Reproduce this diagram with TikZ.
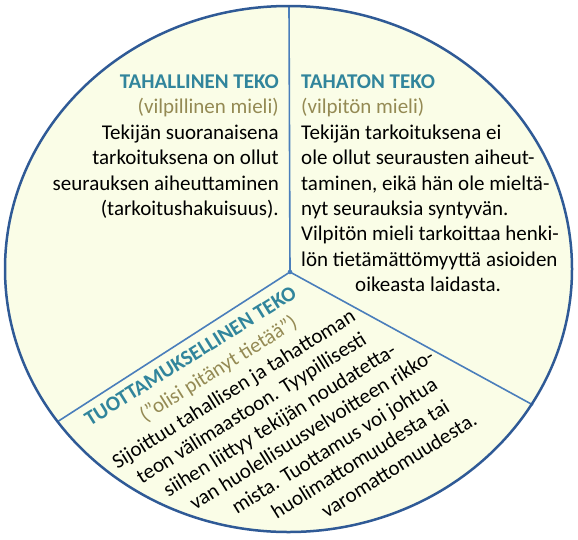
\documentclass[tikz,border=0pt]{standalone}
\usepackage{fontspec}
\setmainfont{Carlito}

\definecolor{tekoteal}{HTML}{31859C}
\definecolor{mieliolive}{HTML}{948A54}
\definecolor{piefill}{HTML}{FAFDE7}
\definecolor{pieedge}{HTML}{2F5A96}
\definecolor{pieline}{HTML}{4A7EBB}

\tikzset{
  txt/.style={inner sep=0pt, text=black, font=\fontsize{21}{25.4}\selectfont},
  heading/.style={txt, text=tekoteal, font=\fontsize{21}{25.4}\selectfont\bfseries},
  subhead/.style={txt, text=mieliolive},
}

\begin{document}
\begin{tikzpicture}[x=1pt,y=-1pt]

  % fix the page to the reference size
  \useasboundingbox (0,0) rectangle (578,539);

  % light yellow disc
  \fill [piefill] (288.5,269) ellipse [x radius=283.5, y radius=263];

  % three dividing lines from the centre
  \coordinate (ctr) at (290,272);
  \coordinate (top) at (289,6);
  \coordinate (lft) at (57,422);
  \coordinate (rgt) at (533,405);
  \foreach \e in {top,lft,rgt}
    \draw [pieline, line width=1.6pt] (ctr) -- (\e);
  \fill [pieline] (ctr) circle [radius=2.3pt];

  % blue rim
  \draw [pieedge, line width=2.5pt] (288.5,269) ellipse [x radius=283.5, y radius=263];

  % upper left sector
  \node [txt, align=right, anchor=north east] (tahallinen) at (279,74.5) {%
    {\color{tekoteal}\bfseries TAHALLINEN TEKO}\\
    {\color{mieliolive}(vilpillinen mieli)}\\
    Tekijän suoranaisena\hspace*{7pt}\\
    tarkoituksena on ollut\\
    seurauksen aiheuttaminen\\
    (tarkoitushakuisuus).};

  % upper right sector
  \node [txt, align=left, anchor=north west] (tahaton) at (301,74.5) {%
    {\color{tekoteal}\bfseries TAHATON TEKO}\\
    {\color{mieliolive}(vilpitön mieli)}\\
    Tekijän tarkoituksena ei\\
    ole ollut seurausten aiheut-\\
    taminen, eikä hän ole mieltä-\\
    nyt seurauksia syntyvän.\\
    Vilpitön mieli tarkoittaa henki-\\
    lön tietämättömyyttä asioiden\\
    \hspace*{54pt}oikeasta laidasta.};

  % lower sector, turned text
  \node [heading, rotate=32, anchor=base west] (tuottamus) at (89.9,426.7) {TUOTTAMUKSELLINEN TEKO};
  \node [subhead, rotate=32, anchor=base west] (olisi) at (144.9,422.3) {(”olisi pitänyt tietää”)};
  \foreach \px/\py/\rivi [count=\i] in {
      117.5/469.4/{Sijoittuu tahallisen ja tahattoman},
      141.7/484.2/{teon välimaastoon. Tyypillisesti},
      168.5/497.4/{siihen liittyy tekijän noudatetta-},
      194.9/510.9/{van huolellisuusvelvoitteen rikko-},
      236.9/514.6/{mista. Tuottamus voi johtua},
      276.8/519.6/{huolimattomuudesta tai},
      326.7/518.4/{varomattomuudesta.}}
    \node [txt, rotate=32, anchor=base west] (rivi\i) at (\px,\py) {\rivi};

\end{tikzpicture}
\end{document}
